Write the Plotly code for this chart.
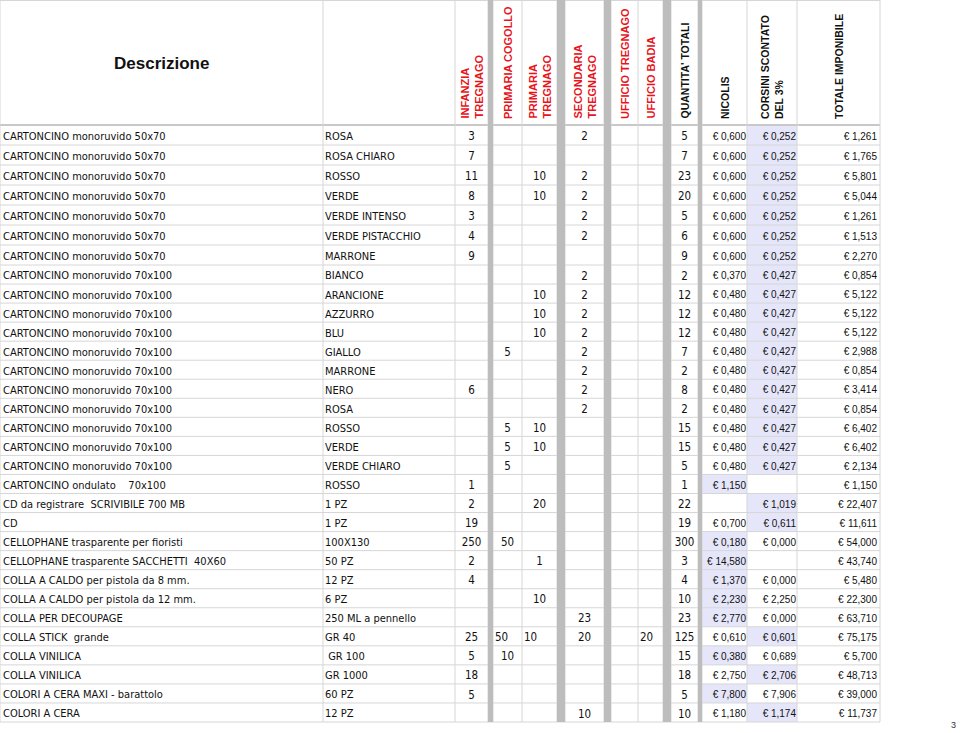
import plotly.graph_objects as go

# ---------------- DATA ----------------
descrizione = [
    "CARTONCINO monoruvido 50x70", "CARTONCINO monoruvido 50x70", "CARTONCINO monoruvido 50x70",
    "CARTONCINO monoruvido 50x70", "CARTONCINO monoruvido 50x70", "CARTONCINO monoruvido 50x70",
    "CARTONCINO monoruvido 50x70",
    "CARTONCINO monoruvido 70x100", "CARTONCINO monoruvido 70x100", "CARTONCINO monoruvido 70x100",
    "CARTONCINO monoruvido 70x100", "CARTONCINO monoruvido 70x100", "CARTONCINO monoruvido 70x100",
    "CARTONCINO monoruvido 70x100", "CARTONCINO monoruvido 70x100", "CARTONCINO monoruvido 70x100",
    "CARTONCINO monoruvido 70x100", "CARTONCINO monoruvido 70x100",
    "CARTONCINO ondulato \u00a0\u00a0\u00a070x100",
    "CD da registrare \u00a0SCRIVIBILE 700 MB",
    "CD",
    "CELLOPHANE trasparente per fioristi",
    "CELLOPHANE trasparente SACCHETTI \u00a040X60",
    "COLLA A CALDO per pistola da 8 mm.",
    "COLLA A CALDO per pistola da 12 mm.",
    "COLLA PER DECOUPAGE",
    "COLLA STICK \u00a0grande",
    "COLLA VINILICA",
    "COLLA VINILICA",
    "COLORI A CERA MAXI - barattolo",
    "COLORI A CERA",
]
variante = [
    "ROSA", "ROSA CHIARO", "ROSSO", "VERDE", "VERDE INTENSO", "VERDE PISTACCHIO", "MARRONE",
    "BIANCO", "ARANCIONE", "AZZURRO", "BLU", "GIALLO", "MARRONE", "NERO", "ROSA", "ROSSO",
    "VERDE", "VERDE CHIARO", "ROSSO", "1 PZ", "1 PZ", "100X130", "50 PZ", "12 PZ", "6 PZ",
    "250 ML a pennello", "GR 40", "\u00a0GR 100", "GR 1000", "60 PZ", "12 PZ",
]
N = None
infanzia_tregnago   = [3, 7, 11, 8, 3, 4, 9, N, N, N, N, N, N, 6, N, N, N, N, 1, 2, 19, 250, 2, 4, N, N, 25, 5, 18, 5, N]
primaria_cogollo    = [N, N, N, N, N, N, N, N, N, N, N, 5, N, N, N, 5, 5, 5, N, N, N, 50, N, N, N, N, 50, 10, N, N, N]
primaria_tregnago   = [N, N, 10, 10, N, N, N, N, 10, 10, 10, N, N, N, N, 10, 10, N, N, 20, N, N, 1, N, 10, N, 10, N, N, N, N]
secondaria_tregnago = [2, N, 2, 2, 2, 2, N, 2, 2, 2, 2, 2, 2, 2, 2, N, N, N, N, N, N, N, N, N, N, 23, 20, N, N, N, 10]
ufficio_tregnago    = [N] * 31
ufficio_badia       = [N, N, N, N, N, N, N, N, N, N, N, N, N, N, N, N, N, N, N, N, N, N, N, N, N, N, 20, N, N, N, N]
quantita_totali     = [5, 7, 23, 20, 5, 6, 9, 2, 12, 12, 12, 7, 2, 8, 2, 15, 15, 5, 1, 22, 19, 300, 3, 4, 10, 23, 125, 15, 18, 5, 10]
nicolis = [0.600, 0.600, 0.600, 0.600, 0.600, 0.600, 0.600, 0.370, 0.480, 0.480, 0.480, 0.480, 0.480,
           0.480, 0.480, 0.480, 0.480, 0.480, 1.150, N, 0.700, 0.180, 14.580, 1.370, 2.230, 2.770,
           0.610, 0.380, 2.750, 7.800, 1.180]
corsini_scontato = [0.252, 0.252, 0.252, 0.252, 0.252, 0.252, 0.252, 0.427, 0.427, 0.427, 0.427, 0.427,
                    0.427, 0.427, 0.427, 0.427, 0.427, 0.427, N, 1.019, 0.611, 0.000, N, 0.000, 2.250,
                    0.000, 0.601, 0.689, 2.706, 7.906, 1.174]
totale_imponibile = [1.261, 1.765, 5.801, 5.044, 1.261, 1.513, 2.270, 0.854, 5.122, 5.122, 5.122, 2.988,
                     0.854, 3.414, 0.854, 6.402, 6.402, 2.134, 1.150, 22.407, 11.611, 54.000, 43.740,
                     5.480, 22.300, 63.710, 75.175, 5.700, 48.713, 39.000, 11.737]
# which price column is highlighted on each row
evidenziato = ["C"] * 18 + ["N", "C", "C", "N", "N", "N", "N", "N", "C", "N", "C", "N", "C"]

intestazioni_rosse = ["INFANZIA<br>TREGNAGO", "PRIMARIA COGOLLO", "PRIMARIA<br>TREGNAGO",
                      "SECONDARIA<br>TREGNAGO", "UFFICIO TREGNAGO", "UFFICIO BADIA"]
intestazioni_nere = ["QUANTITA' TOTALI", "NICOLIS", "CORSINI SCONTATO<br>DEL 3%", "TOTALE IMPONIBILE"]
numero_pagina = "3"

# ---------------- LAYOUT CONSTANTS ----------------
W, H = 960, 733
HEADER_BOTTOM = 125
TABLE_RIGHT = 880
n_rows = len(descrizione)
row_edges = [HEADER_BOTTOM + 20 * i for i in range(8)]
last = 722
k_rest = n_rows - 7
for i in range(1, k_rest + 1):
    row_edges.append(row_edges[7] + (last - row_edges[7]) * i / k_rest)
TEXT_DY = 2.2
row_centers = [(row_edges[i] + row_edges[i + 1]) / 2 + TEXT_DY for i in range(n_rows)]

cols = [(0, 323), (323, 455), (455, 488), (493, 522), (522, 557), (565, 604),
        (611, 638), (638, 663), (671, 698), (702, 747), (747, 797), (797, 880)]
gray_bars = [(488, 493), (557, 565), (604, 611), (663, 671), (698, 702)]

LINE = "#d6d6d6"
GRAY = "#bdbdbd"
HL = "#e6e6fa"
TXT_FONT = "DejaVu Sans Condensed, DejaVu Sans, sans-serif"
NUM_FONT = "Liberation Sans, Arial, sans-serif"

fig = go.Figure()
shapes = []

# highlighted cells
for i, h in enumerate(evidenziato):
    c = cols[9] if h == "N" else cols[10]
    shapes.append(dict(type="rect", xref="x", yref="y", x0=c[0], x1=c[1],
                       y0=row_edges[i], y1=row_edges[i + 1], fillcolor=HL,
                       line=dict(width=0), layer="below"))
# horizontal lines
shapes.append(dict(type="line", xref="x", yref="y", x0=0, x1=TABLE_RIGHT, y0=0.5, y1=0.5,
                   line=dict(color=LINE, width=1), layer="below"))
for y in row_edges:
    shapes.append(dict(type="line", xref="x", yref="y", x0=0, x1=TABLE_RIGHT, y0=y, y1=y,
                       line=dict(color=LINE if y != HEADER_BOTTOM else "#c8c8c8",
                                 width=1 if y != HEADER_BOTTOM else 2), layer="below"))
# vertical lines
vx = sorted(set([c[0] for c in cols] + [c[1] for c in cols]))
for x in vx:
    shapes.append(dict(type="line", xref="x", yref="y", x0=x, x1=x, y0=0, y1=last,
                       line=dict(color=LINE, width=1), layer="below"))
# gray separator bars
for g in gray_bars:
    shapes.append(dict(type="rect", xref="x", yref="y", x0=g[0], x1=g[1], y0=0, y1=last,
                       fillcolor=GRAY, line=dict(width=0), layer="below"))


def fmt_int(v):
    return "" if v is None else str(v)


def fmt_eur(v):
    return "" if v is None else ("\u20ac " + f"{v:.3f}".replace(".", ","))


def add_text(x, texts, pos, font_family, size):
    fig.add_trace(go.Scatter(
        x=[x] * len(texts), y=row_centers, mode="text", text=texts,
        textposition=pos, textfont=dict(family=font_family, size=size, color="#111111"),
        hoverinfo="skip", showlegend=False, cliponaxis=False))


# text columns (left aligned)
add_text(cols[0][0] + 3, descrizione, "middle right", TXT_FONT, 11)
add_text(cols[1][0] + 2, variante, "middle right", TXT_FONT, 11)

# quantity columns (centered, with a few left-aligned cells on the COLLA STICK row)
left_cells = {(26, 3), (26, 4), (26, 7)}
qty_cols = [infanzia_tregnago, primaria_cogollo, primaria_tregnago, secondaria_tregnago,
            ufficio_tregnago, ufficio_badia, quantita_totali]
for j, series in enumerate(qty_cols):
    ci = j + 2 if j < 6 else 8
    c = cols[ci]
    center_txt = [fmt_int(v) if (r, ci) not in left_cells else "" for r, v in enumerate(series)]
    left_txt = [fmt_int(v) if (r, ci) in left_cells else "" for r, v in enumerate(series)]
    add_text((c[0] + c[1]) / 2, center_txt, "middle center", TXT_FONT, 11.5)
    if any(left_txt):
        add_text(c[0] + 2, left_txt, "middle right", TXT_FONT, 11.5)

# euro columns (right aligned)
for ci, series, pad in [(9, nicolis, 1), (10, corsini_scontato, 1), (11, totale_imponibile, 3)]:
    add_text(cols[ci][1] - pad, [fmt_eur(v) for v in series], "middle left", NUM_FONT, 10)

annotations = [dict(x=(cols[0][0] + cols[0][1]) / 2, y=63, xref="x", yref="y", text="<b>Descrizione</b>",
                    showarrow=False, font=dict(family=NUM_FONT, size=17, color="#111111"))]
for ci, t in zip([2, 3, 4, 5, 6, 7], intestazioni_rosse):
    annotations.append(dict(x=(cols[ci][0] + cols[ci][1]) / 2, y=HEADER_BOTTOM - 4, xref="x", yref="y",
                            text="<b>" + t + "</b>", textangle=-90, showarrow=False, align="left",
                            xanchor="center", yanchor="bottom",
                            font=dict(family=NUM_FONT, size=11, color="#e8141b")))
for ci, t in zip([8, 9, 10, 11], intestazioni_nere):
    annotations.append(dict(x=(cols[ci][0] + cols[ci][1]) / 2, y=HEADER_BOTTOM - 4, xref="x", yref="y",
                            text="<b>" + t + "</b>", textangle=-90, showarrow=False, align="left",
                            xanchor="center", yanchor="bottom",
                            font=dict(family=NUM_FONT, size=10.5, color="#111111")))
annotations.append(dict(x=953, y=H - 1, xref="x", yref="y", text=numero_pagina, showarrow=False,
                        xanchor="center", yanchor="bottom",
                        font=dict(family=NUM_FONT, size=9, color="#333333")))

fig.update_layout(
    width=W, height=H, margin=dict(l=0, r=0, t=0, b=0),
    paper_bgcolor="white", plot_bgcolor="white",
    xaxis=dict(range=[0, W], visible=False, fixedrange=True),
    yaxis=dict(range=[H, 0], visible=False, fixedrange=True),
    shapes=shapes, annotations=annotations, showlegend=False,
)

fig.write_html("out.html", config={"displayModeBar": False},
               post_script="document.body.style.margin='0px';")
